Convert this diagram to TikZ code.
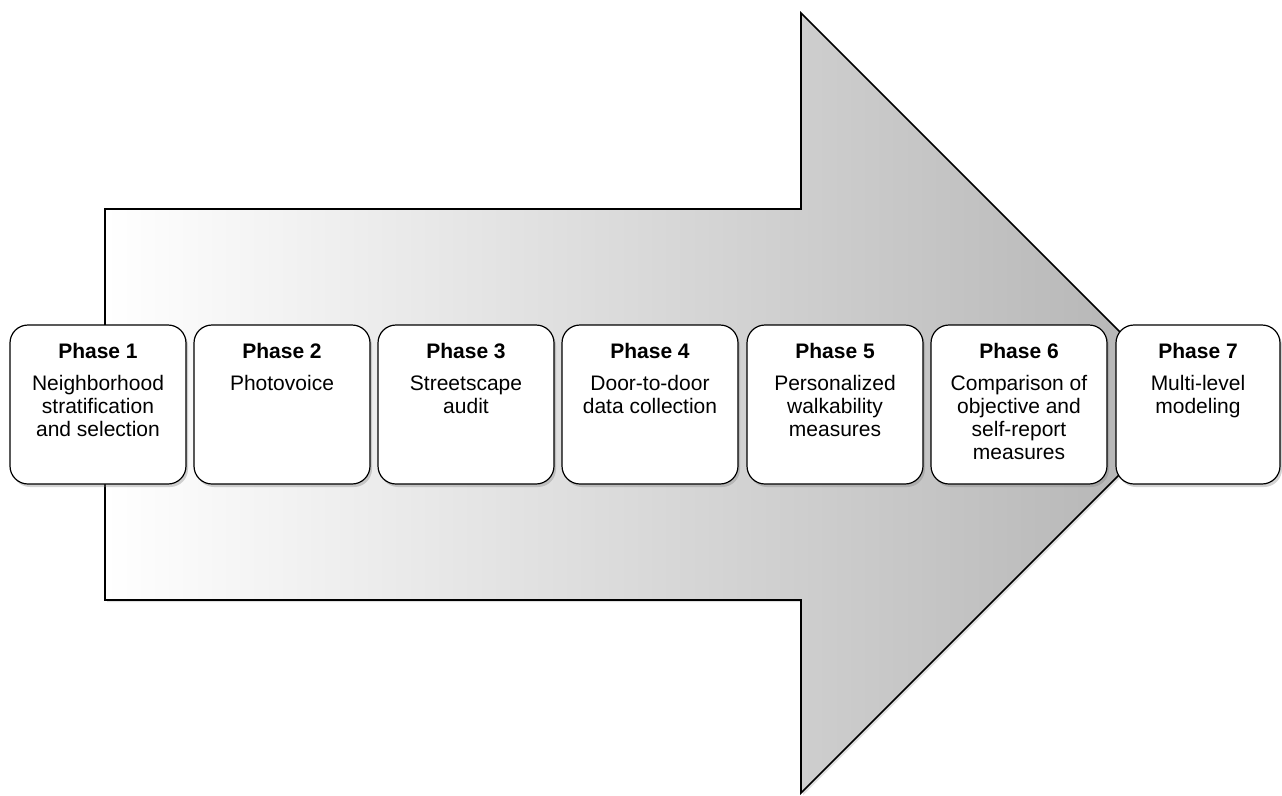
\documentclass[tikz,border=0pt]{standalone}
\usepackage{fontspec}
\setmainfont{Liberation Sans}
\usetikzlibrary{positioning,shadows}
\tikzset{
  phase/.style={draw, line width=1.2pt, rounded corners=18pt, fill=white,
    minimum width=176pt, minimum height=159pt, inner sep=0pt,
    drop shadow={shadow xshift=2pt, shadow yshift=-3pt, opacity=.35}},
  phasetext/.style={inner sep=0pt, align=center, font=\fontsize{21}{23}\selectfont},
}
\begin{document}
\begin{tikzpicture}[x=1pt, y=-1pt]
\useasboundingbox (0,0) rectangle (1282,795);
% the big arrow
\draw[line width=1.6pt, left color=white, right color=black!30,
  drop shadow={shadow xshift=2pt, shadow yshift=-2pt, opacity=.25}]
  (105,209) -- (801,209) -- (801,13) -- (1191,403) -- (801,793)
  -- (801,600) -- (105,600) -- cycle;
% phases
\node[phase] (P1) at (98, 404.5) {};
\node[phase] (P2) at (282, 404.5) {};
\node[phase] (P3) at (466, 404.5) {};
\node[phase] (P4) at (650, 404.5) {};
\node[phase] (P5) at (835, 404.5) {};
\node[phase] (P6) at (1019, 404.5) {};
\node[phase, minimum width=164pt] (P7) at (1198, 404.5) {};
\node[phasetext, below=19pt of P1.north] (T1) {\textbf{Phase 1}\\[9pt]Neighborhood\\stratification\\and selection};
\node[phasetext, below=19pt of P2.north] (T2) {\textbf{Phase 2}\\[9pt]Photovoice};
\node[phasetext, below=19pt of P3.north] (T3) {\textbf{Phase 3}\\[9pt]Streetscape\\audit};
\node[phasetext, below=19pt of P4.north] (T4) {\textbf{Phase 4}\\[9pt]Door-to-door\\data collection};
\node[phasetext, below=19pt of P5.north] (T5) {\textbf{Phase 5}\\[9pt]Personalized\\walkability\\measures};
\node[phasetext, below=19pt of P6.north] (T6) {\textbf{Phase 6}\\[9pt]Comparison of\\objective and\\self-report\\measures};
\node[phasetext, below=19pt of P7.north] (T7) {\textbf{Phase 7}\\[9pt]Multi-level\\modeling};
\end{tikzpicture}
\end{document}
